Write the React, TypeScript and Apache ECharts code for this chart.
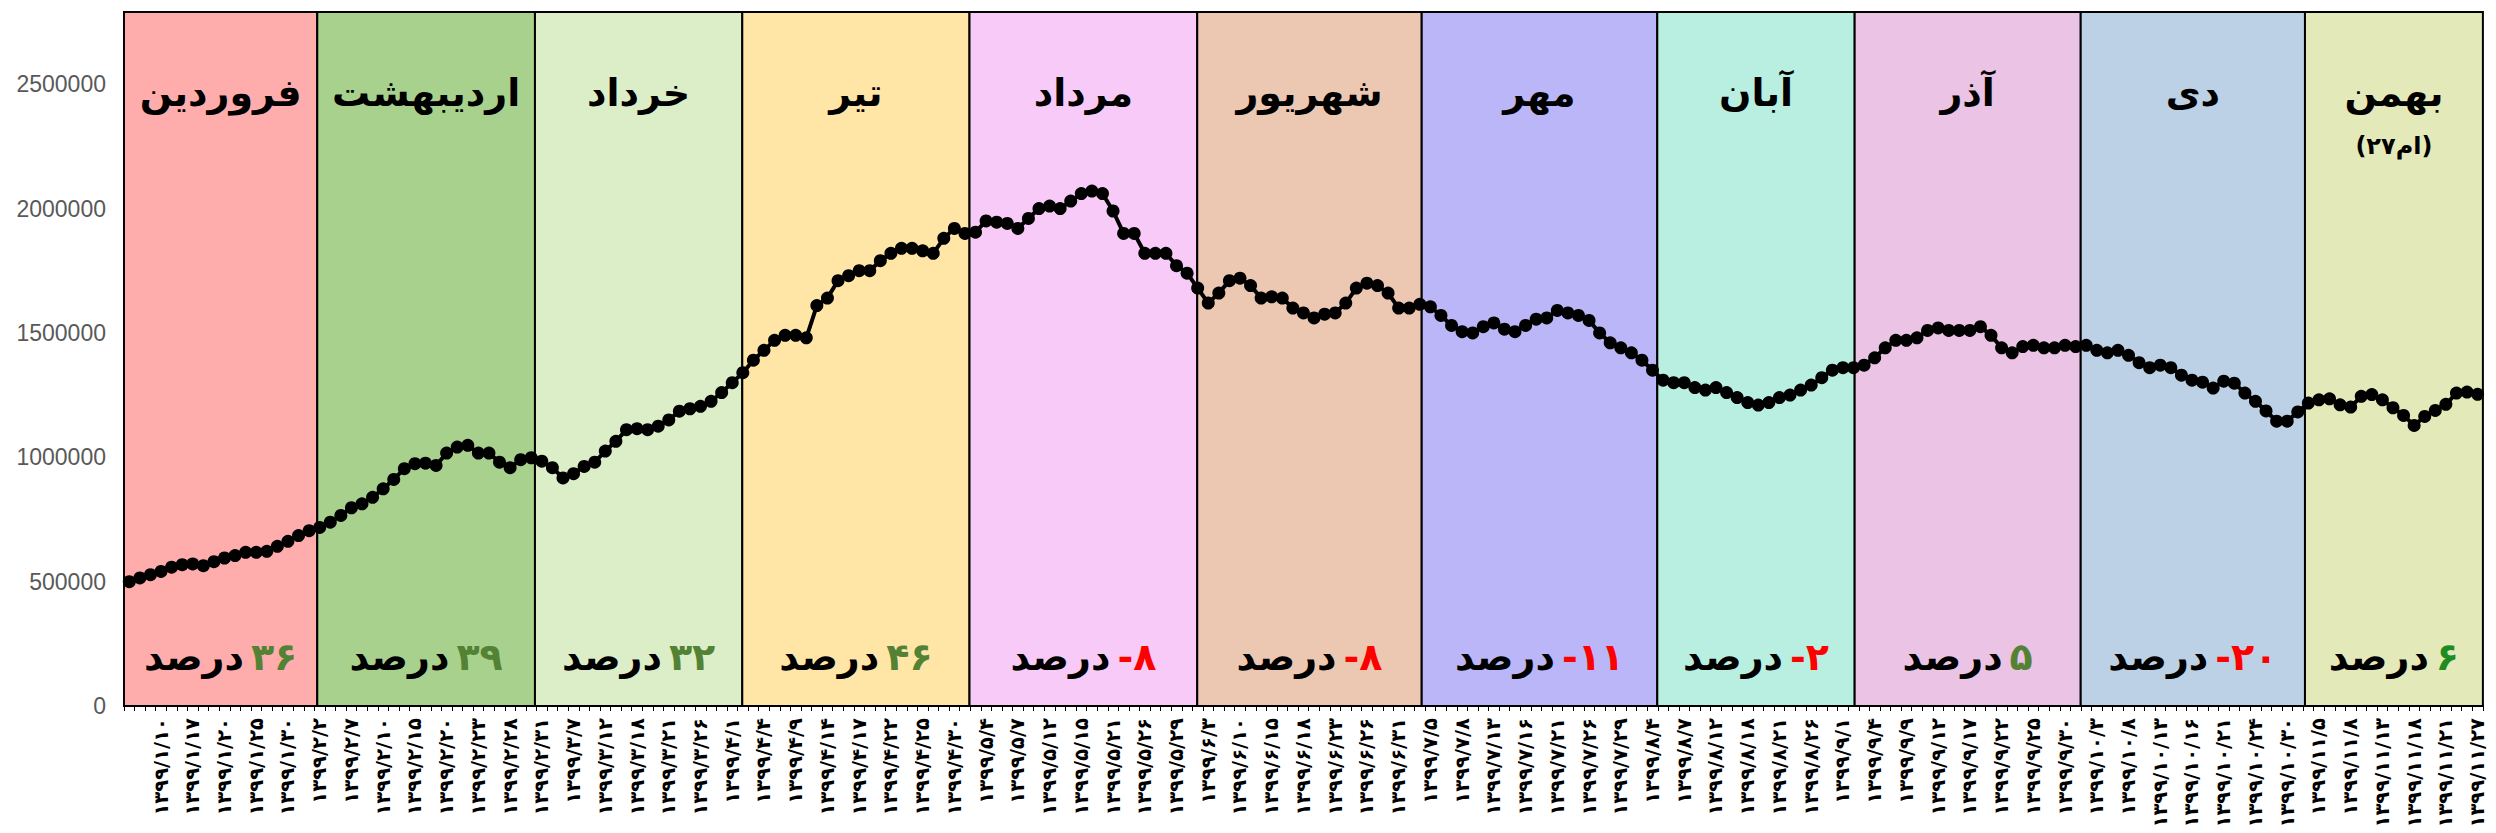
import React, { useEffect, useRef } from 'react';
import * as echarts from 'echarts';

// Trading days of 1399 (month -> days)
const tradingDays: number[][] = [
  [5, 6, 9, 10, 11, 16, 17, 18, 19, 20, 23, 24, 25, 26, 27, 30, 31],
  [1, 2, 3, 6, 7, 8, 9, 10, 13, 14, 15, 16, 17, 20, 21, 22, 23, 24, 27, 28, 29, 30, 31],
  [3, 6, 7, 10, 11, 12, 13, 17, 18, 19, 20, 21, 24, 25, 26, 27, 31],
  [1, 2, 3, 4, 7, 8, 9, 10, 11, 14, 15, 16, 17, 18, 21, 22, 23, 24, 25, 28, 29, 30, 31],
  [1, 4, 5, 6, 7, 8, 11, 12, 13, 14, 15, 19, 20, 21, 22, 25, 26, 27, 28, 29],
  [1, 2, 3, 4, 5, 10, 11, 12, 15, 16, 17, 18, 19, 22, 23, 24, 25, 26, 29, 30, 31],
  [1, 2, 5, 6, 7, 8, 9, 12, 13, 14, 15, 16, 19, 20, 21, 22, 23, 26, 27, 28, 29, 30],
  [3, 4, 5, 6, 7, 10, 11, 12, 13, 17, 18, 19, 20, 21, 24, 25, 26, 27, 28],
  [1, 2, 3, 4, 5, 8, 9, 10, 11, 12, 15, 16, 17, 18, 19, 22, 23, 24, 25, 26, 29, 30],
  [1, 2, 3, 6, 7, 8, 9, 10, 13, 14, 15, 16, 17, 20, 21, 22, 23, 24, 27, 29, 30],
  [1, 4, 5, 6, 7, 8, 11, 12, 13, 14, 15, 18, 19, 20, 21, 25, 26, 27],
];
const categories: string[] = [];
tradingDays.forEach((days, m) => days.forEach((d) => categories.push(`1399/${m + 1}/${d}`)));

// Total index values (thousands), one per trading day
const indexValues: number[] = [
  500, 515, 528, 541, 558, 568, 571, 564, 580, 595, 605, 618, 618, 622, 642, 662, 685, 705, 718, 739,
  766, 797, 813, 839, 873, 911, 954, 974, 976, 967, 1017, 1041, 1048, 1017, 1017, 980, 958, 990, 998, 984,
  958, 917, 934, 963, 980, 1025, 1064, 1111, 1115, 1111, 1125, 1150, 1185, 1195, 1205, 1225, 1260, 1300, 1340, 1390,
  1430, 1470, 1490, 1490, 1480, 1610, 1640, 1710, 1730, 1750, 1750, 1790, 1820, 1840, 1840, 1830, 1820, 1880, 1920, 1900,
  1905, 1950, 1945, 1940, 1920, 1960, 2000, 2010, 2000, 2030, 2060, 2070, 2060, 1990, 1900, 1900, 1820, 1820, 1820, 1770,
  1740, 1680, 1620, 1660, 1710, 1720, 1690, 1640, 1645, 1640, 1600, 1580, 1560, 1575, 1580, 1620, 1680, 1700, 1690, 1660,
  1600, 1600, 1615, 1605, 1570, 1530, 1505, 1500, 1525, 1540, 1515, 1505, 1530, 1555, 1560, 1590, 1580, 1570, 1550, 1500,
  1460, 1440, 1420, 1390, 1350, 1310, 1300, 1300, 1280, 1270, 1280, 1260, 1240, 1220, 1210, 1220, 1240, 1250, 1270, 1290,
  1320, 1350, 1360, 1360, 1370, 1400, 1440, 1470, 1470, 1480, 1510, 1520, 1510, 1510, 1510, 1525, 1490, 1440, 1420, 1445,
  1450, 1440, 1440, 1450, 1445, 1450, 1430, 1420, 1430, 1410, 1380, 1360, 1370, 1360, 1330, 1310, 1302, 1278, 1306, 1298,
  1258, 1225, 1186, 1145, 1145, 1182, 1218, 1231, 1235, 1211, 1202, 1245, 1252, 1231, 1199, 1168, 1128, 1164, 1188, 1213,
  1258, 1262, 1253,
];

const monthNames = ['فروردین', 'اردیبهشت', 'خرداد', 'تیر', 'مرداد', 'شهریور', 'مهر', 'آبان', 'آذر', 'دی', 'بهمن'];
const monthChange = ['۳۶', '۳۹', '۳۲', '۴۶', '-۸', '-۸', '-۱۱', '-۲', '۵', '-۲۰', '۶'];
const changeTone = ['g', 'g', 'g', 'g', 'r', 'r', 'r', 'r', 'g', 'r', 'd'];
const bahmanNote = '(۲۷ام)';
// month band edges, in trading-day units along the x axis
const bandEdges = [0, 18.27, 38.85, 58.45, 79.93, 101.46, 122.68, 144.95, 163.61, 184.98, 206.18, 223];
const bandColors = ['#FFACAC', '#A9D18E', '#DBEEC7', '#FFE6A6', '#F7CAF7', '#ECC8B3', '#BAB6F7', '#B9EFE1', '#EAC3E5', '#BCD1E5', '#E4E9B9'];

const toFa = (s: string) => s.replace(/\d/g, (d) => '۰۱۲۳۴۵۶۷۸۹'[+d]);
const FA = 'DejaVu Sans';

export default function App() {
  const ref = useRef<HTMLDivElement>(null);
  useEffect(() => {
    document.body.style.margin = '0';
    const chart = echarts.init(ref.current!, undefined, { renderer: 'svg' });
    const n = categories.length;
    const bands = monthNames.map((name, i) => [
      {
        name,
        xAxis: bandEdges[i],
        itemStyle: { color: bandColors[i] },
        label:
          i === 10
            ? { formatter: '{m|' + name + '}\n{s|' + bahmanNote + '}' }
            : undefined,
      },
      { xAxis: bandEdges[i + 1] },
    ]);
    const changes = monthNames.map((name, i) => [
      {
        name,
        xAxis: bandEdges[i],
        label: { formatter: '{k|درصد}{sp| }{' + changeTone[i] + '|' + monthChange[i] + '}' },
      },
      { xAxis: bandEdges[i + 1] },
    ]);
    const big = { fontFamily: FA, fontWeight: 'bold' as const, fontSize: 38 };
    const plotW = 10.578 * n;
    chart.setOption({
      animation: false,
      grid: { left: 124, right: 2496 - 124 - plotW, top: 12, bottom: 127 },
      xAxis: [
        {
          type: 'category',
          data: categories,
          boundaryGap: true,
          axisLine: { lineStyle: { color: '#000', width: 2 } },
          axisTick: { show: true, interval: 0, length: 5, lineStyle: { color: '#000' } },
          axisLabel: {
            interval: (idx: number) => idx % 3 === 0 && idx > 0,
            rotate: 90,
            margin: 12,
            fontFamily: FA,
            fontWeight: 'bold',
            fontSize: 19.5,
            color: '#000',
            formatter: (v: string) => toFa(v),
          },
          splitLine: { show: false },
          z: 5,
        },
        { type: 'value', min: 0, max: n, show: false },
      ],
      yAxis: {
        type: 'value',
        min: 0,
        max: 2790000,
        interval: 500000,
        axisLine: { show: false },
        axisTick: { show: false },
        splitLine: { show: false },
        axisLabel: {
          showMaxLabel: false,
          margin: 18,
          color: '#595959',
          fontFamily: 'Liberation Sans',
          fontSize: 23,
          formatter: (v: number) => String(v),
        },
      },
      series: [
        {
          type: 'line',
          xAxisIndex: 1,
          data: [],
          silent: true,
          markArea: {
            silent: true,
            itemStyle: { borderColor: '#000', borderWidth: 2 },
            label: {
              show: true,
              position: 'insideTop',
              distance: 63,
              color: '#000',
              ...big,
              rich: {
                m: { ...big, color: '#000' },
                s: { fontFamily: FA, fontWeight: 'bold', fontSize: 24, color: '#000', padding: [22, 0, 0, 0] },
              },
            },
            data: bands,
          },
          z: 1,
        },
        {
          type: 'line',
          xAxisIndex: 1,
          data: [],
          silent: true,
          markArea: {
            silent: true,
            itemStyle: { color: 'rgba(0,0,0,0)', borderWidth: 0 },
            label: {
              show: true,
              position: 'insideBottom',
              distance: 30,
              rich: {
                k: { ...big, color: '#000' },
                sp: { ...big, fontSize: 20 },
                g: { ...big, color: '#548235' },
                d: { ...big, color: '#1E8C1E' },
                r: { ...big, color: '#FF0000' },
              },
            },
            data: changes,
          },
          z: 2,
        },
        {
          type: 'line',
          data: indexValues.map((v) => v * 1000),
          symbol: 'circle',
          symbolSize: 13,
          showAllSymbol: true,
          lineStyle: { color: '#000', width: 4 },
          itemStyle: { color: '#000' },
          z: 10,
        },
      ],
    });
    return () => chart.dispose();
  }, []);
  return <div ref={ref} style={{ width: 2496, height: 833 }} />;
}
